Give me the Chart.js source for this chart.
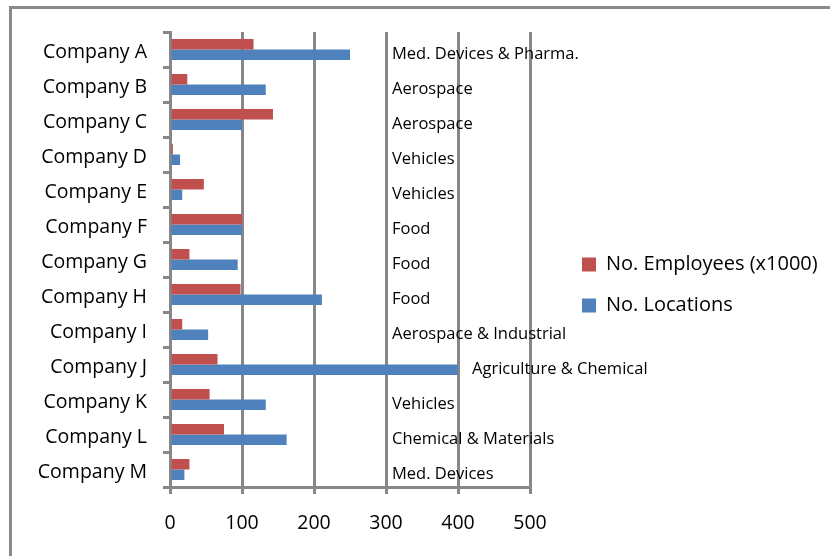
<!DOCTYPE html>
<html>
<head>
<meta charset="utf-8">
<script src="https://cdn.jsdelivr.net/npm/chart.js@4"></script>
<style>
  html, body { margin: 0; padding: 0; background: #fff; overflow: hidden; }
  #frame { position: absolute; left: 9px; top: 6px; width: 900px; height: 700px; border: 3px solid #8a8a8a; box-sizing: border-box; }
  #wrap { position: absolute; left: 0; top: 0; width: 830px; height: 556px; }
</style>
</head>
<body>
<div id="frame"></div>
<div id="wrap"><canvas id="barChart" width="830" height="556"></canvas></div>
<script>
var companies = ["Company A", "Company B", "Company C", "Company D", "Company E", "Company F", "Company G",
                 "Company H", "Company I", "Company J", "Company K", "Company L", "Company M"];
var employees = [116, 24, 143, 4, 47, 100, 27, 98, 17, 66, 55, 75, 27];
var locations = [250, 133, 100, 14, 17, 100, 94, 211, 53, 400, 133, 162, 20];
var industries = ["Med. Devices & Pharma.", "Aerospace", "Aerospace", "Vehicles", "Vehicles", "Food", "Food",
                  "Food", "Aerospace & Industrial", "Agriculture & Chemical", "Vehicles", "Chemical & Materials",
                  "Med. Devices"];
var xTicks = [0, 100, 200, 300, 400, 500];

var FONT = "'Open Sans', sans-serif";
var GRID = "#878787";

// industry text next to each company, right of the 300 line (or past the bar)
var industryLabels = {
    id: 'industryLabels',
    afterDatasetsDraw: function (chart) {
        var ctx = chart.ctx;
        var xs = chart.scales.x, ys = chart.scales.y;
        var blue = chart.getDatasetMeta(1);
        ctx.save();
        ctx.font = "16.5px " + FONT;
        ctx.fillStyle = "#000";
        ctx.textBaseline = "middle";
        ctx.textAlign = "left";
        industries.forEach(function (txt, i) {
            var x = Math.max(xs.getPixelForValue(300) + 6, blue.data[i].x + 14);
            ctx.fillText(txt, x, ys.getPixelForValue(i) + 5);
        });
        ctx.restore();
    }
};

// nudge the legend to where the original had it
var legendShift = {
    id: 'legendShift',
    afterLayout: function (chart) {
        var l = chart.legend;
        l.left += 31; l.right += 31;
        l.top -= 9; l.bottom -= 9;
    }
};

var barData = {
    labels: companies,
    datasets: [
        {
            label: "No. Employees (x1000)",
            backgroundColor: "#C0504D",
            borderWidth: 0,
            data: employees
        }, {
            label: "No. Locations",
            backgroundColor: "#4F81BD",
            borderWidth: 0,
            data: locations
        }
    ]
};

var barOptions = {
    responsive: false,
    animation: false,
    indexAxis: 'y',
    categoryPercentage: 0.6,
    barPercentage: 1.0,
    layout: { padding: { top: 32, right: 40, left: 0, bottom: 0 } },
    scales: {
        x: {
            min: 0, max: 500,
            afterBuildTicks: function (s) { s.ticks = xTicks.map(function (v) { return { value: v }; }); },
            afterFit: function (s) { s.height = 69; },
            grid: { color: GRID, lineWidth: 3, tickLength: 7, tickColor: GRID },
            border: { color: GRID, width: 3 },
            ticks: { color: "#000", font: { family: FONT, size: 19.5 }, padding: 18, maxRotation: 0 }
        },
        y: {
            afterFit: function (s) { s.width = 170; },
            grid: { drawOnChartArea: false, tickLength: 7, tickColor: GRID, lineWidth: 3, offset: true },
            border: { color: GRID, width: 3 },
            ticks: { color: "#000", font: { family: FONT, size: 19.5 }, padding: 16, labelOffset: 3, autoSkip: false }
        }
    },
    plugins: {
        legend: {
            position: 'right',
            maxWidth: 260,
            labels: {
                color: "#000",
                font: { family: FONT, size: 20 },
                boxWidth: 14, boxHeight: 14,
                padding: 21
            }
        },
        tooltip: { enabled: false }
    }
};

var ctx = document.getElementById("barChart").getContext("2d");
new Chart(ctx, { type: 'bar', data: barData, options: barOptions, plugins: [industryLabels, legendShift] });
</script>
</body>
</html>
